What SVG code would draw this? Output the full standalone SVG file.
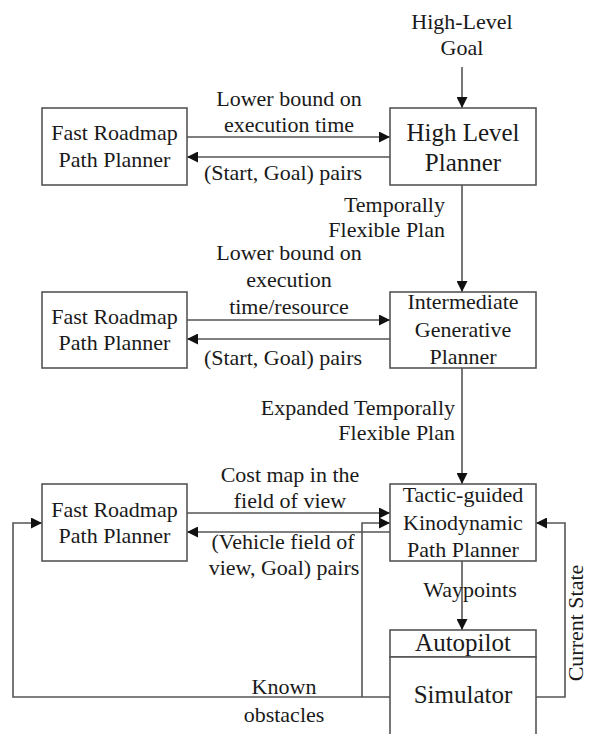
<svg xmlns="http://www.w3.org/2000/svg" width="589" height="734" viewBox="0 0 589 734">
<style>
text{font-family:"Liberation Serif","Times New Roman",serif;font-size:22px;fill:#1a1a1a}
.c{text-anchor:middle}
.e{text-anchor:end}
.big{font-size:25px}
.box{fill:#fff;stroke:#555;stroke-width:1.6}
.ln{fill:none;stroke:#555;stroke-width:1.6}
</style>
<defs>
<marker id="ah" markerUnits="userSpaceOnUse" markerWidth="12" markerHeight="11" refX="11" refY="5.5" orient="auto">
<path d="M0,0 L11,5.5 L0,11 z" fill="#111"/>
</marker>
</defs>
<rect width="589" height="734" fill="#fff"/>

<g id="connectors">
<line class="ln" x1="462" y1="67" x2="462" y2="108" marker-end="url(#ah)"/>
<line class="ln" x1="187" y1="137" x2="390" y2="137" marker-end="url(#ah)"/>
<line class="ln" x1="390" y1="157" x2="187" y2="157" marker-end="url(#ah)"/>
<line class="ln" x1="462" y1="185" x2="462" y2="292" marker-end="url(#ah)"/>
<line class="ln" x1="187" y1="320" x2="390" y2="320" marker-end="url(#ah)"/>
<line class="ln" x1="390" y1="339" x2="187" y2="339" marker-end="url(#ah)"/>
<line class="ln" x1="462" y1="368" x2="462" y2="484" marker-end="url(#ah)"/>
<line class="ln" x1="187" y1="513" x2="390" y2="513" marker-end="url(#ah)"/>
<polyline class="ln" points="362,697 362,523 390,523" marker-end="url(#ah)"/>
<line class="ln" x1="390" y1="532" x2="187" y2="532" marker-end="url(#ah)"/>
<line class="ln" x1="462" y1="561" x2="462" y2="630" marker-end="url(#ah)"/>
<polyline class="ln" points="390,697 13,697 13,523 42,523" marker-end="url(#ah)"/>
<polyline class="ln" points="536,697 565,697 565,523 536,523" marker-end="url(#ah)"/>
<text class="c" x="462" y="29">High-Level</text>
<text class="c" x="462" y="55">Goal</text>
<text class="c" x="289" y="106">Lower bound on</text>
<text class="c" x="289" y="132">execution time</text>
<text class="c" x="283" y="180">(Start, Goal) pairs</text>
<text class="e" x="445" y="212">Temporally</text>
<text class="e" x="445" y="237">Flexible Plan</text>
<text class="c" x="289" y="260">Lower bound on</text>
<text class="c" x="289" y="287">execution</text>
<text class="c" x="289" y="314">time/resource</text>
<text class="c" x="283" y="365">(Start, Goal) pairs</text>
<text class="e" x="455" y="415">Expanded Temporally</text>
<text class="e" x="455" y="440">Flexible Plan</text>
<text class="c" x="290" y="482">Cost map in the</text>
<text class="c" x="290" y="508">field of view</text>
<text class="c" x="283" y="549">(Vehicle field of</text>
<text class="c" x="284" y="575">view, Goal) pairs</text>
<text class="c" x="470" y="597">Waypoints</text>
<text class="c" x="284" y="694">Known</text>
<text class="c" x="284" y="722">obstacles</text>
<text class="c" transform="translate(583,623) rotate(-90)">Current State</text>
</g>

<g id="fast-roadmap-1">
<rect class="box" x="42" y="108" width="145" height="77"/>
<text class="c" x="114.5" y="140">Fast Roadmap</text>
<text class="c" x="114.5" y="167">Path Planner</text>
</g>
<g id="high-level-planner">
<rect class="box" x="390" y="108" width="146" height="77"/>
<text class="c big" x="463" y="141">High Level</text>
<text class="c big" x="463" y="171">Planner</text>
</g>
<g id="fast-roadmap-2">
<rect class="box" x="42" y="292" width="145" height="76"/>
<text class="c" x="114.5" y="324">Fast Roadmap</text>
<text class="c" x="114.5" y="350">Path Planner</text>
</g>
<g id="intermediate-planner">
<rect class="box" x="390" y="292" width="146" height="76"/>
<text class="c" x="463" y="309">Intermediate</text>
<text class="c" x="463" y="337">Generative</text>
<text class="c" x="463" y="364">Planner</text>
</g>
<g id="fast-roadmap-3">
<rect class="box" x="42" y="484" width="145" height="77"/>
<text class="c" x="114.5" y="517">Fast Roadmap</text>
<text class="c" x="114.5" y="543">Path Planner</text>
</g>
<g id="tactic-planner">
<rect class="box" x="390" y="484" width="146" height="77"/>
<text class="c" x="463" y="502">Tactic-guided</text>
<text class="c" x="463" y="530">Kinodynamic</text>
<text class="c" x="463" y="557">Path Planner</text>
</g>
<g id="autopilot">
<rect class="box" x="390" y="630" width="146" height="27"/>
<text class="c big" x="463" y="651">Autopilot</text>
</g>
<g id="simulator">
<rect class="box" x="390" y="657" width="146" height="90"/>
<text class="c big" x="463" y="703">Simulator</text>
</g>
</svg>
